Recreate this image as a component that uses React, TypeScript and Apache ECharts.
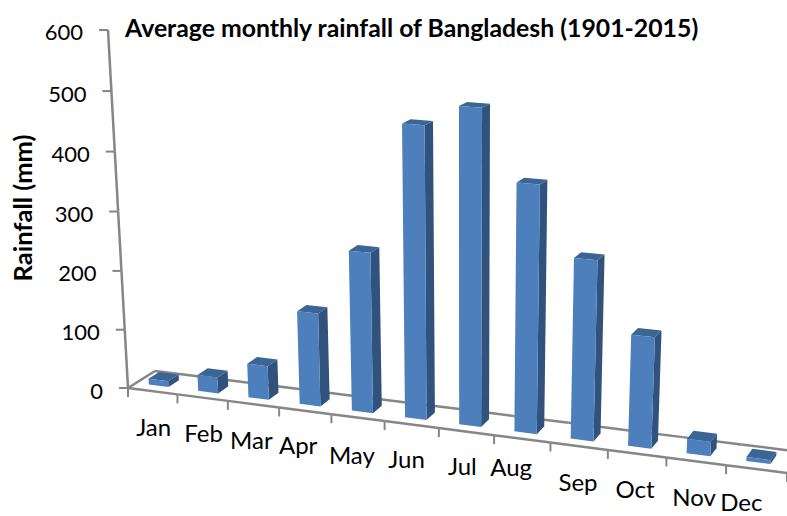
import React, { useEffect, useRef } from "react";
import * as echarts from "echarts";

const MONTHS = ["Jan", "Feb", "Mar", "Apr", "May", "Jun", "Jul", "Aug", "Sep", "Oct", "Nov", "Dec"];
const RAINFALL = [10, 27, 57, 155, 264, 476, 510, 397, 287, 176, 23, 6];
const Y_TICKS = [0, 100, 200, 300, 400, 500, 600];
const TITLE = "Average monthly rainfall of Bangladesh (1901-2015)";
const Y_NAME = "Rainfall (mm)";

// label layout quirks of the original, as offsets from the projected category centre
const MONTH_LABEL_DX = [1, 1, -2, -7, -6, -5, -4, -11, -1, -2, -2, -15];
const MONTH_LABEL_DY = [35, 35, 35, 34, 37, 34, 34, 28, 35, 35, 35, 32];

const LEFT = 128, WIDTH = 659, BASE = 388, SCALE_H = 348;
const R = 1.12, B = 0.028, SLOPE = 0.129, VX = 458, LEAN = 5907;
const FONT = "Lato, Carlito, sans-serif";
const GREY = "#868686";

function project(px: number, py: number, d: number): number[] {
  const u = (px - LEFT) / WIDTH;
  const w = u + (1 - u) * R;
  const x0 = LEFT + (WIDTH * u) / w;
  const y0 = BASE + SLOPE * (x0 - LEFT);
  const hp = BASE - py;
  const h = (hp / (1 - (B * hp) / SCALE_H)) * (R / w);
  const lean = ((x0 - VX) * h) / LEAN;
  const k = 1 - 0.0015 * h;
  return [x0 + lean + (27 - 13 * u) * d, y0 - h + (-17 - 4 * u) * d * k];
}

function seg(a: number[], b: number[], w = 2.5) {
  return {
    type: "line",
    shape: { x1: a[0], y1: a[1], x2: b[0], y2: b[1] },
    style: { stroke: GREY, lineWidth: w },
  };
}

function poly(points: number[][], fill: string) {
  return { type: "polygon", shape: { points }, style: { fill } };
}

export default function App() {
  const ref = useRef<HTMLDivElement>(null);
  useEffect(() => {
    const chart = echarts.init(ref.current!, null, { renderer: "svg" });
    chart.setOption({
      animation: false,
      backgroundColor: "#ffffff",
      title: {
        text: TITLE,
        left: 120,
        top: 10,
        textStyle: { fontFamily: FONT, fontWeight: "bold", fontSize: 24.8, color: "#000" },
      },
      grid: { left: LEFT, width: WIDTH, top: BASE - SCALE_H, height: SCALE_H },
      xAxis: { type: "category", data: MONTHS, show: false },
      yAxis: { type: "value", min: 0, max: 600, interval: 100, show: false },
      graphic: [
        {
          type: "text",
          x: 22,
          y: 208,
          rotation: Math.PI / 2,
          style: {
            text: Y_NAME,
            fontFamily: FONT,
            fontWeight: "bold",
            fontSize: 25.5,
            fill: "#000",
            align: "center",
            verticalAlign: "middle",
          },
        },
      ],
      series: [
        {
          type: "custom",
          coordinateSystem: "cartesian2d",
          data: MONTHS.map((m, i) => [i, 0]),
          silent: true,
          z: 1,
          renderItem(params: any, api: any) {
            const i = params.dataIndex;
            const cx = api.coord([i, 0]);
            const cw = api.size([1, 0])[0];
            const xL = cx[0] - cw / 2;
            const xR = cx[0] + cw / 2;
            const y0 = cx[1];
            const tick = (x: number) => {
              const p = project(x, y0, 0);
              return seg(p, [p[0], p[1] + 9], 2);
            };
            const children: any[] = [
              seg(project(xL, y0, 0), project(xR, y0, 0)),
              seg(project(xL, y0, 1), project(xR, y0, 1)),
              tick(xL),
            ];
            if (i === 0) children.push(seg(project(xL, y0, 0), project(xL, y0, 1)));
            if (i === MONTHS.length - 1) children.push(tick(xR));
            const c = project(cx[0], y0, 0);
            children.push({
              type: "text",
              style: {
                text: MONTHS[i],
                x: c[0] + MONTH_LABEL_DX[i],
                y: c[1] + MONTH_LABEL_DY[i],
                fontFamily: FONT,
                fontSize: 24,
                fill: "#000",
                align: "center",
                verticalAlign: "middle",
              },
            });
            return { type: "group", children };
          },
        },
        {
          type: "custom",
          coordinateSystem: "cartesian2d",
          data: Y_TICKS.map((v) => [0, v]),
          silent: true,
          z: 1,
          renderItem(params: any, api: any) {
            const v = api.value(1) as number;
            const cw = api.size([1, 0])[0];
            const px = api.coord([0, v])[0] - cw / 2;
            const p = project(px, api.coord([0, v])[1], 0);
            const children: any[] = [seg([p[0] - 9, p[1]], p, 2)];
            const nextI = params.dataIndex + 1;
            if (nextI < Y_TICKS.length) {
              children.push(seg(p, project(px, api.coord([0, Y_TICKS[nextI]])[1], 0)));
            }
            children.push({
              type: "text",
              style: {
                text: String(v),
                x: p[0] - 25,
                y: p[1] + 2,
                fontFamily: FONT,
                fontSize: 22,
                fill: "#000",
                align: "right",
                verticalAlign: "middle",
              },
            });
            return { type: "group", children };
          },
        },
        {
          type: "custom",
          coordinateSystem: "cartesian2d",
          data: RAINFALL.map((v, i) => [i, v]),
          silent: true,
          z: 2,
          renderItem(params: any, api: any) {
            const top = api.coord([api.value(0), api.value(1)]);
            const bottom = api.coord([api.value(0), 0]);
            const cw = api.size([1, 0])[0];
            const xL = top[0] - cw * 0.24;
            const xR = top[0] + cw * 0.16;
            const d0 = 0.3, d1 = 0.7;
            const fl0 = project(xL, bottom[1], d0);
            const fr0 = project(xR, bottom[1], d0);
            const br0 = project(xR, bottom[1], d1);
            const fl1 = project(xL, top[1], d0);
            const fr1 = project(xR, top[1], d0);
            const br1 = project(xR, top[1], d1);
            const bl1 = project(xL, top[1], d1);
            return {
              type: "group",
              children: [
                poly([fr0, br0, br1, fr1], "#30527C"),
                poly([fl1, fr1, br1, bl1], "#3A6595"),
                poly([fl0, fr0, fr1, fl1], "#4C7FBC"),
              ],
            };
          },
        },
      ],
    });
    return () => chart.dispose();
  }, []);
  return <div ref={ref} style={{ position: "absolute", left: 0, top: 0, width: 787, height: 516 }} />;
}
